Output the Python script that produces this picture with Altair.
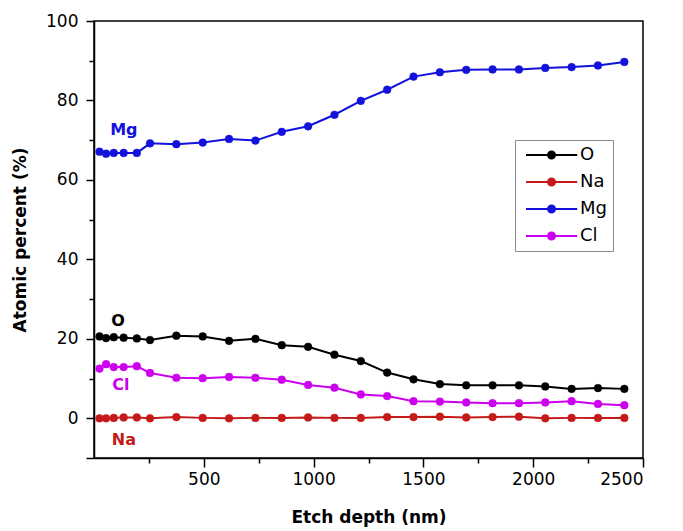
import altair as alt
import pandas as pd

# Etch depth (nm) of each XPS depth-profile step
depth = [25, 55, 90, 135, 195, 255, 375, 495, 615, 735, 855, 975,
         1095, 1215, 1335, 1455, 1575, 1695, 1815, 1935, 2055, 2175, 2295, 2415]

# Atomic percent of each element at every depth
o_pct = [20.6, 20.2, 20.4, 20.3, 20.1, 19.7, 20.8, 20.6, 19.5, 20.0, 18.4, 18.0,
         16.0, 14.4, 11.5, 9.8, 8.6, 8.3, 8.3, 8.3, 8.0, 7.4, 7.6, 7.4]
na_pct = [0.0, 0.0, 0.1, 0.2, 0.2, 0.0, 0.3, 0.1, 0.0, 0.1, 0.1, 0.2,
          0.1, 0.1, 0.3, 0.3, 0.4, 0.2, 0.3, 0.4, 0.0, 0.1, 0.1, 0.1]
mg_pct = [67.1, 66.6, 66.8, 66.8, 66.8, 69.2, 69.0, 69.4, 70.3, 69.9, 72.1, 73.5,
          76.4, 79.9, 82.7, 86.0, 87.1, 87.7, 87.8, 87.8, 88.2, 88.4, 88.8, 89.7]
cl_pct = [12.5, 13.6, 12.9, 12.9, 13.1, 11.4, 10.2, 10.1, 10.4, 10.2, 9.7, 8.4,
          7.7, 6.0, 5.6, 4.3, 4.2, 4.0, 3.8, 3.8, 4.0, 4.3, 3.6, 3.3]

elements = ["O", "Na", "Mg", "Cl"]
colors = ["#000000", "#C41A1A", "#1212DC", "#CC00EE"]

# In-plot element tags
tag_names = ["Mg", "O", "Cl", "Na"]
tag_colors = ["#1212DC", "#000000", "#CC00EE", "#C41A1A"]
tag_x = [136, 109, 122, 136]
tag_y = [72.5, 24.4, 8.4, -5.5]

x_major = [500, 1000, 1500, 2000, 2500]
x_minor = [250, 750, 1250, 1750, 2250]
y_major = [-10, 0, 20, 40, 60, 80, 100]
y_minor = [10, 30, 50, 70, 90]

rows = []
for el, vals in zip(elements, [o_pct, na_pct, mg_pct, cl_pct]):
    for d, v in zip(depth, vals):
        rows.append({"depth": d, "pct": v, "element": el})
df = pd.DataFrame(rows)

tags = pd.DataFrame({"name": tag_names, "depth": tag_x, "pct": tag_y})

FONT = "DejaVu Sans"
x_scale = alt.Scale(domain=[0, 2500], nice=False, zero=False)
y_scale = alt.Scale(domain=[-10, 100], nice=False, zero=False)

x_enc = alt.X(
    "depth:Q",
    title="Etch depth (nm)",
    scale=x_scale,
    axis=alt.Axis(orient="bottom", values=x_major, format="d", tickSize=9,
                  labelPadding=4, titlePadding=22),
)
y_enc = alt.Y(
    "pct:Q",
    title="Atomic percent (%)",
    scale=y_scale,
    axis=alt.Axis(orient="left", values=y_major, format="d", tickSize=8,
                  labelExpr="datum.value >= 0 ? datum.label : ''",
                  labelPadding=8, titlePadding=16),
)

# Legend symbol: a short line with a dot in the middle
legend_path = "M-0.5,0L5.9,0M3.13,0A0.44,0.44,0,1,1,2.25,0A0.44,0.44,0,1,1,3.13,0Z"
legend = alt.Legend(
    title=None,
    orient="none",
    legendX=421,
    legendY=119,
    symbolType=legend_path,
    symbolSize=256,
    symbolStrokeWidth=2,
    labelFont=FONT,
    labelFontSize=18,
    labelColor="black",
    labelOffset=41,
    labelLimit=200,
    padding=6,
    rowPadding=9,
    strokeColor="#8c8c8c",
    fillColor="white",
)

color_scale = alt.Scale(domain=elements, range=colors)

lines = alt.Chart(df).mark_line(strokeWidth=2).encode(
    x=x_enc,
    y=y_enc,
    stroke=alt.Stroke("element:N", scale=color_scale, legend=legend),
    detail="element:N",
)

points = alt.Chart(df).mark_point(filled=True, shape="circle", size=60, opacity=1, strokeWidth=0.5).encode(
    x="depth:Q",
    y="pct:Q",
    fill=alt.Fill("element:N", scale=color_scale, legend=legend),
    stroke=alt.Stroke("element:N", scale=color_scale, legend=legend),
)

labels = alt.Chart(tags).mark_text(font=FONT, fontSize=16, fontWeight="bold").encode(
    x="depth:Q",
    y="pct:Q",
    text="name:N",
    color=alt.Color("name:N", scale=alt.Scale(domain=tag_names, range=tag_colors), legend=None),
)

# Invisible layer that only carries the shorter minor-tick axes
minor = alt.Chart(df).mark_point(opacity=0).encode(
    x=alt.X("depth:Q", scale=x_scale,
            axis=alt.Axis(orient="bottom", values=x_minor, labels=False, tickSize=5,
                          domain=False, title=None)),
    y=alt.Y("pct:Q", scale=y_scale,
            axis=alt.Axis(orient="left", values=y_minor, labels=False, tickSize=5,
                          domain=False, title=None)),
)

chart = (
    alt.layer(alt.layer(lines, points, labels), minor)
    .resolve_axis(x="independent", y="independent")
    .properties(
        width=549,
        height=437,
        padding={"left": 94, "top": 21, "right": 40, "bottom": 73},
        autosize=alt.AutoSizeParams(type="none"),
        background="white",
    )
    .configure_view(stroke="black", strokeWidth=1.5)
    .configure_axis(
        grid=False,
        domainColor="black",
        domainWidth=1.5,
        tickColor="black",
        tickWidth=1.5,
        labelFont=FONT,
        labelFontSize=17,
        labelColor="black",
        titleFont=FONT,
        titleFontSize=17,
        titleFontWeight="bold",
        titleColor="black",
    )
)

chart.save("out.html", embed_options={"renderer": "svg", "actions": False})
